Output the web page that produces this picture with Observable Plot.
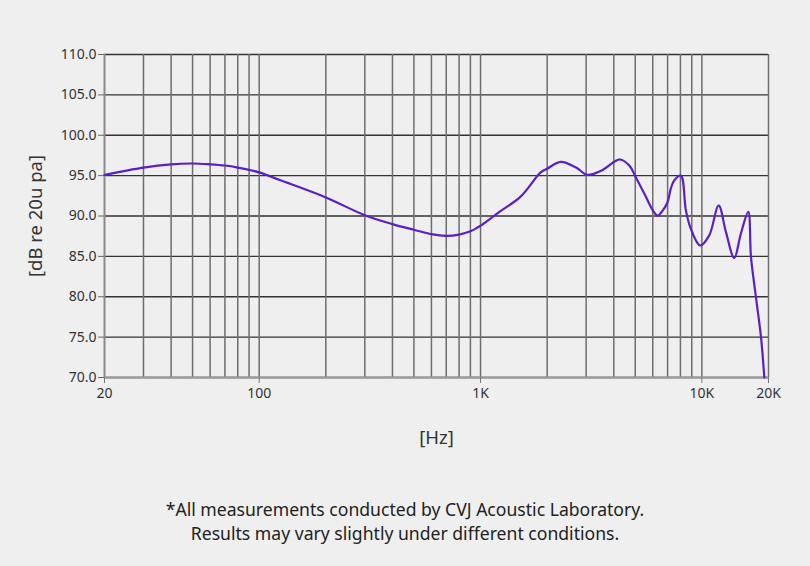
<!DOCTYPE html>
<html>
<head>
<meta charset="utf-8">
<script src="https://cdn.jsdelivr.net/npm/d3@7"></script>
<script src="https://cdn.jsdelivr.net/npm/@observablehq/plot@0.6"></script>
<style>
  html, body { margin: 0; padding: 0; background: #efefef; }
  body { width: 810px; height: 566px; overflow: hidden; font-family: "Noto Sans", sans-serif; }
  #caption { text-align: center; font-size: 17.6px; line-height: 24px; color: #222; margin-top: 27px; }
</style>
</head>
<body>
<div id="chart"></div>
<div id="caption">*All measurements conducted by CVJ Acoustic Laboratory.<br>Results may vary slightly under different conditions.</div>
<script>
const freqs = [20, 30, 40, 50, 60, 70, 80, 100, 124, 200, 300, 400, 500, 600, 700, 800, 900, 1000, 1200, 1517, 1870, 2000, 2303, 2700, 3041, 3500, 4270, 4700, 5027, 5500, 6000, 6303, 6660, 6998, 7239, 7500, 8036, 8468, 8917, 9822, 10795, 11906, 12850, 14000, 15000, 16200, 16670, 17550, 18500, 19150];
const spl   = [95.1, 96.0, 96.4, 96.5, 96.4, 96.25, 96.0, 95.4, 94.45, 92.3, 90.1, 89.0, 88.3, 87.75, 87.55, 87.7, 88.1, 88.8, 90.4, 92.4, 95.4, 95.85, 96.7, 96.0, 95.1, 95.6, 97.0, 96.25, 94.8, 92.75, 90.7, 90.05, 90.7, 91.7, 93.4, 94.4, 95.0, 90.7, 88.4, 86.35, 87.6, 91.3, 88.0, 84.8, 87.8, 90.5, 84.9, 79.95, 75.0, 70.0];

const xGrid = [30, 40, 50, 60, 70, 80, 90, 100, 200, 300, 400, 500, 600, 700, 800, 900, 1000, 2000, 3000, 4000, 5000, 6000, 7000, 8000, 9000, 10000, 20000];
const xTicks = [20, 100, 1000, 10000, 20000];
const xTickLabels = ["20", "100", "1K", "10K", "20K"];
const yTicks = [70, 75, 80, 85, 90, 95, 100, 105, 110];

const data = freqs.map((f, i) => ({f, db: spl[i]}));
const font = "Noto Sans, sans-serif";

const chart = Plot.plot({
  width: 810,
  height: 470,
  marginLeft: 104,
  marginRight: 42,
  marginTop: 54,
  marginBottom: 93,
  style: {background: "#efefef", fontFamily: font, fontSize: "14px", color: "#333"},
  x: {type: "log", domain: [20, 20000]},
  y: {domain: [70, 110]},
  marks: [
    Plot.ruleY(yTicks, {stroke: "#333", strokeWidth: 1.3}),
    Plot.ruleX(xGrid, {stroke: "#6e6e6e", strokeWidth: 1.5}),
    Plot.ruleX([20], {stroke: "#8a8a8a", strokeWidth: 2}),
    Plot.ruleY([70], {stroke: "#9a9a9a", strokeWidth: 2}),
    Plot.axisY({ticks: yTicks, tickFormat: d => d.toFixed(1), tickSize: 6, tickPadding: 2, stroke: "#666", label: null, fontSize: 14}),
    Plot.axisX({ticks: xTicks, tickFormat: d => xTickLabels[xTicks.indexOf(d)], tickSize: 6, tickPadding: 5, stroke: "#777", label: null, fontSize: 14}),
    Plot.text(["[dB re 20u pa]"], {frameAnchor: "left", textAnchor: "middle", dx: -68, rotate: -90, fontSize: 18.5, fill: "#333"}),
    Plot.text(["[Hz]"], {frameAnchor: "bottom", dy: 66, fontSize: 18.5, fill: "#333"}),
    Plot.line(data, {x: "f", y: "db", stroke: "#5a1fc6", strokeWidth: 2.2, curve: "catmull-rom"})
  ]
});
document.getElementById("chart").appendChild(chart);
</script>
</body>
</html>
